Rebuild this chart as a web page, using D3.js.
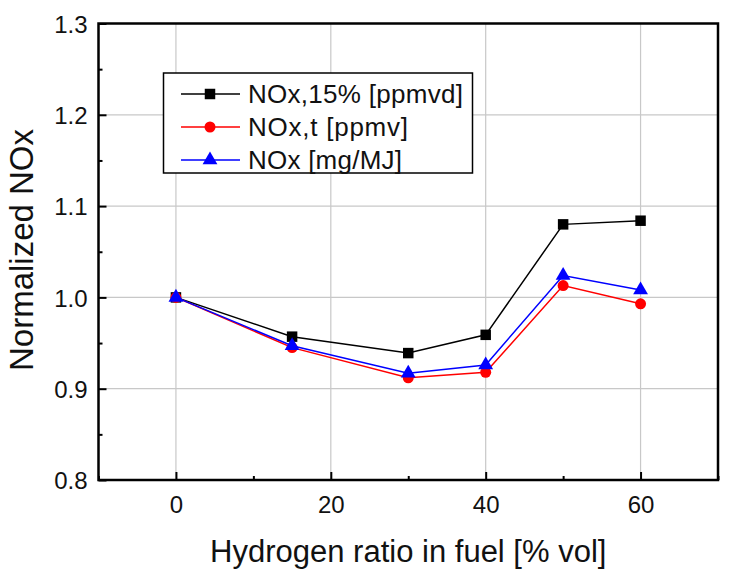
<!DOCTYPE html>
<html><head><meta charset="utf-8">
<script src="https://cdn.jsdelivr.net/npm/d3@7"></script>
<style>body{margin:0;background:#fff}svg{display:block}text{font-family:Arial,"Liberation Sans",sans-serif;fill:#111}</style>
</head><body><svg id="c" width="734" height="579"></svg>
<script>
const xValues = [0, 15, 30, 40, 50, 60];
const seriesNames = ["NOx,15% [ppmvd]", "NOx,t [ppmv]", "NOx [mg/MJ]"];
const black15 = [1.000, 0.957, 0.939, 0.959, 1.080, 1.084];
const redT = [1.000, 0.945, 0.912, 0.918, 1.013, 0.993];
const blueMg = [1.000, 0.947, 0.917, 0.926, 1.024, 1.008];
const xTicks = [0, 20, 40, 60];
const yTicks = [0.8, 0.9, 1.0, 1.1, 1.2, 1.3];
const xLabel = "Hydrogen ratio in fuel [% vol]";
const yLabel = "Normalized NOx";

const svg = d3.select("#c");
const L = 98.5, R = 718, T = 23.5, B = 480;
const x = d3.scaleLinear().domain([-10, 70]).range([L, R]);
const y = d3.scaleLinear().domain([0.8, 1.3]).range([B, T]);

// grid
const g = svg.append("g");
g.selectAll(".gx").data(xTicks).enter().append("line")
  .attr("x1", d => x(d)).attr("x2", d => x(d)).attr("y1", T).attr("y2", B)
  .attr("stroke", "#c8c8c8").attr("stroke-width", 1.2);
g.selectAll(".gy").data(yTicks.slice(1, -1)).enter().append("line")
  .attr("y1", d => y(d)).attr("y2", d => y(d)).attr("x1", L).attr("x2", R)
  .attr("stroke", "#c8c8c8").attr("stroke-width", 1.2);

// axes (ticks inward)
const xMinor = d3.range(-10, 71, 10).filter(v => v % 20 !== 0);
const yMinor = [0.85, 0.95, 1.05, 1.15, 1.25];
const xAx = svg.append("g").attr("transform", `translate(0,${B})`)
  .call(d3.axisBottom(x).tickValues(xTicks).tickSize(-8).tickPadding(16).tickFormat(d3.format("d")));
const xAxMinor = svg.append("g").attr("transform", `translate(0,${B})`)
  .call(d3.axisBottom(x).tickValues(xMinor).tickSize(-4).tickFormat(""));
const yAx = svg.append("g").attr("transform", `translate(${L},0)`)
  .call(d3.axisLeft(y).tickValues(yTicks).tickSize(-8).tickPadding(11).tickFormat(d3.format(".1f")));
const yAxMinor = svg.append("g").attr("transform", `translate(${L},0)`)
  .call(d3.axisLeft(y).tickValues(yMinor).tickSize(-4).tickFormat(""));
[xAx, xAxMinor, yAx, yAxMinor].forEach(a => {
  a.select(".domain").remove();
  a.selectAll(".tick line").attr("stroke", "#000").attr("stroke-width", 2);
  a.selectAll("text").attr("font-size", 24).attr("fill", "#111")
    .style("font-family", "Arial, 'Liberation Sans', sans-serif");
});
yAx.selectAll("text").attr("dy", "0.36em");

// frame
svg.append("rect").attr("x", L).attr("y", T).attr("width", R - L).attr("height", B - T)
  .attr("fill", "none").attr("stroke", "#000").attr("stroke-width", 2.5);

// series
const series = [
  {name: seriesNames[0], vals: black15, color: "#000000", sym: d3.symbolSquare, size: 110},
  {name: seriesNames[1], vals: redT, color: "#ff0000", sym: d3.symbolCircle, size: 95},
  {name: seriesNames[2], vals: blueMg, color: "#0000ff", sym: d3.symbolTriangle, size: 95}
];
const line = d3.line().x((d, i) => x(xValues[i])).y(d => y(d));
series.forEach(s => {
  svg.append("path").attr("d", line(s.vals)).attr("fill", "none")
    .attr("stroke", s.color).attr("stroke-width", 1.5);
  svg.selectAll(null).data(s.vals).enter().append("path")
    .attr("d", d3.symbol().type(s.sym).size(s.size))
    .attr("transform", (d, i) => `translate(${x(xValues[i])},${y(d)})`)
    .attr("fill", s.color);
});

// legend
const lg = svg.append("g");
lg.append("rect").attr("x", 163.5).attr("y", 73).attr("width", 309).attr("height", 100)
  .attr("fill", "#fff").attr("stroke", "#000").attr("stroke-width", 1.5);
series.forEach((s, i) => {
  const yy = 94 + i * 33;
  lg.append("line").attr("x1", 181).attr("x2", 240).attr("y1", yy).attr("y2", yy)
    .attr("stroke", s.color).attr("stroke-width", 1.5);
  lg.append("path").attr("d", d3.symbol().type(s.sym).size(s.size))
    .attr("transform", `translate(210,${yy})`).attr("fill", s.color);
  lg.append("text").attr("x", 248).attr("y", yy).attr("dy", "0.36em")
    .attr("font-size", 26).attr("textLength", [215, 160, 154][i]).text(s.name);
});

// axis titles
svg.append("text").attr("x", (L + R) / 2).attr("y", 562).attr("text-anchor", "middle")
  .attr("font-size", 31).text(xLabel);
svg.append("text").attr("transform", `translate(33,250) rotate(-90)`)
  .attr("text-anchor", "middle").attr("font-size", 33).text(yLabel);
</script></body></html>
